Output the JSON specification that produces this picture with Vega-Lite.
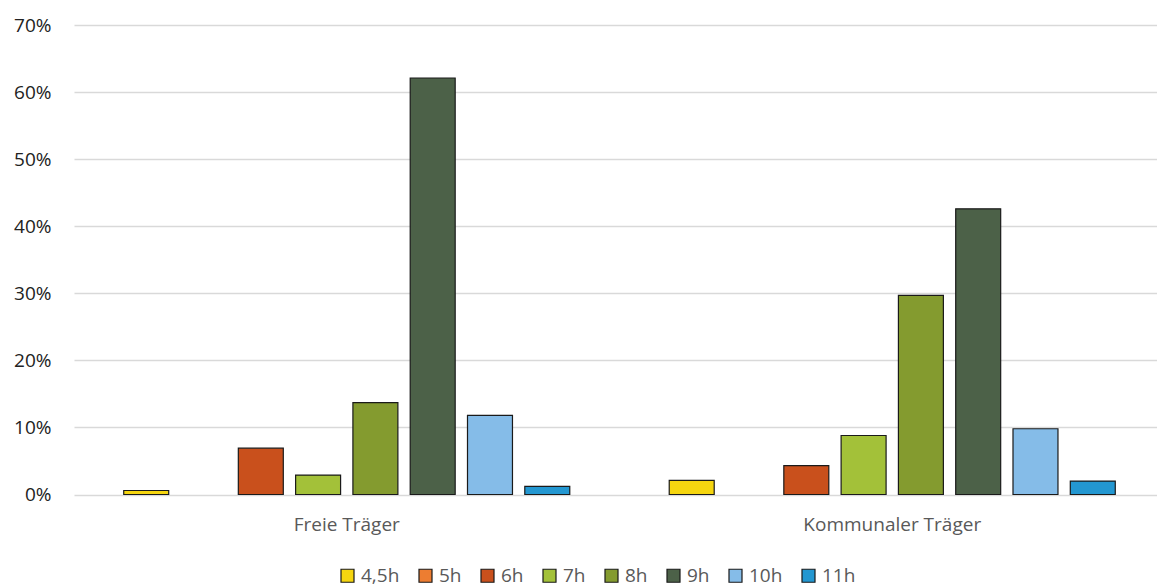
{
  "$schema": "https://vega.github.io/schema/vega-lite/v6.json",
  "autosize": "none",
  "width": 1091,
  "height": 469.5,
  "padding": {"left": 74, "top": 25, "right": 0, "bottom": 93.5},
  "background": "white",
  "config": {
    "font": "Open Sans",
    "view": {"stroke": null}
  },
  "data": {
    "values": [
      {"traeger": "Freie Träger", "stunden": "4,5h", "anteil": 0.006},
      {"traeger": "Freie Träger", "stunden": "5h", "anteil": 0},
      {"traeger": "Freie Träger", "stunden": "6h", "anteil": 0.069},
      {"traeger": "Freie Träger", "stunden": "7h", "anteil": 0.029},
      {"traeger": "Freie Träger", "stunden": "8h", "anteil": 0.137},
      {"traeger": "Freie Träger", "stunden": "9h", "anteil": 0.621},
      {"traeger": "Freie Träger", "stunden": "10h", "anteil": 0.118},
      {"traeger": "Freie Träger", "stunden": "11h", "anteil": 0.012},
      {"traeger": "Kommunaler Träger", "stunden": "4,5h", "anteil": 0.021},
      {"traeger": "Kommunaler Träger", "stunden": "5h", "anteil": 0},
      {"traeger": "Kommunaler Träger", "stunden": "6h", "anteil": 0.043},
      {"traeger": "Kommunaler Träger", "stunden": "7h", "anteil": 0.088},
      {"traeger": "Kommunaler Träger", "stunden": "8h", "anteil": 0.297},
      {"traeger": "Kommunaler Träger", "stunden": "9h", "anteil": 0.426},
      {"traeger": "Kommunaler Träger", "stunden": "10h", "anteil": 0.098},
      {"traeger": "Kommunaler Träger", "stunden": "11h", "anteil": 0.02}
    ]
  },
  "mark": {"type": "bar", "stroke": "#1a1a1a", "strokeWidth": 1.2},
  "encoding": {
    "x": {
      "field": "traeger",
      "type": "nominal",
      "sort": ["Freie Träger", "Kommunaler Träger"],
      "scale": {"paddingInner": 0, "paddingOuter": 0},
      "axis": {
        "title": null,
        "labelAngle": 0,
        "domain": false,
        "ticks": false,
        "labelPadding": 21,
        "labelFontSize": 19,
        "labelColor": "#595959"
      }
    },
    "xOffset": {
      "field": "stunden",
      "type": "nominal",
      "sort": ["4,5h", "5h", "6h", "7h", "8h", "9h", "10h", "11h"],
      "scale": {"paddingInner": 0.215, "paddingOuter": 0.868}
    },
    "y": {
      "field": "anteil",
      "type": "quantitative",
      "scale": {"domain": [0, 0.7], "nice": false},
      "axis": {
        "title": null,
        "format": ".0%",
        "values": [0, 0.1, 0.2, 0.3, 0.4, 0.5, 0.6, 0.7],
        "domain": false,
        "ticks": false,
        "labelPadding": 23,
        "labelFontSize": 19,
        "labelColor": "#222222",
        "gridColor": "#D9D9D9",
        "gridWidth": 1.5
      }
    },
    "color": {
      "field": "stunden",
      "type": "nominal",
      "sort": ["4,5h", "5h", "6h", "7h", "8h", "9h", "10h", "11h"],
      "scale": {
        "domain": ["4,5h", "5h", "6h", "7h", "8h", "9h", "10h", "11h"],
        "range": ["#F5D50F", "#ED7D31", "#C9501C", "#A3C139", "#849B2F", "#4C6148", "#85BCE8", "#2397D1"]
      },
      "legend": {
        "title": null,
        "orient": "none",
        "direction": "horizontal",
        "legendX": 264,
        "legendY": 541,
        "symbolType": "square",
        "symbolSize": 169,
        "symbolStrokeColor": "#1a1a1a",
        "symbolStrokeWidth": 1.2,
        "symbolOpacity": 1,
        "labelFontSize": 19,
        "labelColor": "#595959",
        "labelOffset": 4,
        "columnPadding": 16
      }
    },
    "strokeWidth": {
      "condition": {"test": "datum.anteil == 0", "value": 0},
      "value": 1.2
    }
  }
}
